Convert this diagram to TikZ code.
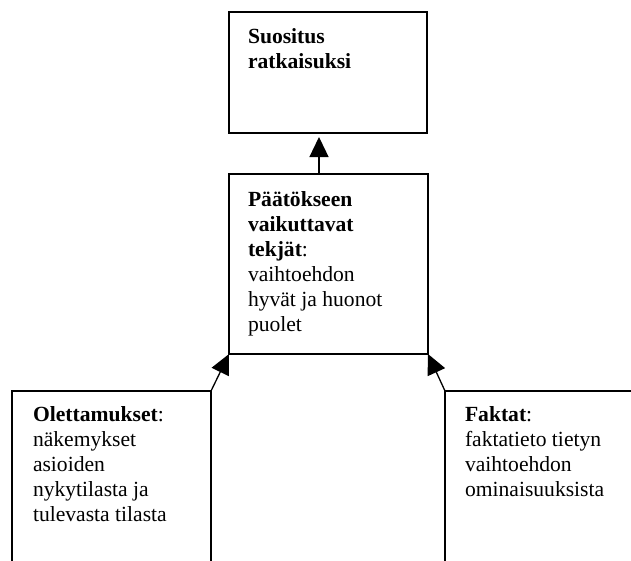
\documentclass[tikz,border=0pt]{standalone}
\usepackage{fontspec}
\setmainfont{Liberation Serif}
\usetikzlibrary{arrows.meta}

\tikzset{
  box/.style={draw, line width=1.3pt, rectangle, inner sep=0pt, outer sep=0pt},
  txt/.style={anchor=base west, inner sep=0pt, outer sep=0pt,
    font=\fontsize{21.6}{25}\selectfont},
  arr/.style={line width=1.3pt, -{Triangle[length=20pt,width=19pt]}}
}
\newcommand{\lines}[1]{\begin{tabular}[t]{@{}l@{}}#1\end{tabular}}

\begin{document}
\begin{tikzpicture}[x=1pt,y=1pt]
  \useasboundingbox (0,0) rectangle (631,-560);
  \clip (0,0) rectangle (631,-560);

  % boxes
  \node[box, minimum width=198pt, minimum height=121pt] (top) at (328,-72.5) {};
  \node[box, minimum width=199pt, minimum height=180pt] (mid) at (328.5,-264) {};
  \node[box, minimum width=199pt, minimum height=209pt] (left) at (111.5,-495.5) {};
  \node[box, minimum width=215pt, minimum height=209pt] (right) at (552.5,-495.5) {};

  % texts
  \node[txt] (ttop) at (248,-43) {\lines{\textbf{Suositus}\\ \textbf{ratkaisuksi}}};
  \node[txt] (tmid) at (248,-206) {\lines{\textbf{Päätökseen}\\ \textbf{vaikuttavat}\\ \textbf{tekjät}:\\ vaihtoehdon\\ hyvät ja huonot\\ puolet}};
  \node[txt] (tleft) at (33,-421) {\lines{\textbf{Olettamukset}:\\ näkemykset\\ asioiden\\ nykytilasta ja\\ tulevasta tilasta}};
  \node[txt] (tright) at (465,-421) {\lines{\textbf{Faktat}:\\ faktatieto tietyn\\ vaihtoehdon\\ ominaisuuksista}};

  % connectors
  \draw[arr, shorten >=4pt] ([xshift=90pt]mid.north west) -- ([xshift=90pt]top.south west);
  \draw[arr] (left.north east) -- (mid.south west);
  \draw[arr] (right.north west) -- (mid.south east);
\end{tikzpicture}
\end{document}
